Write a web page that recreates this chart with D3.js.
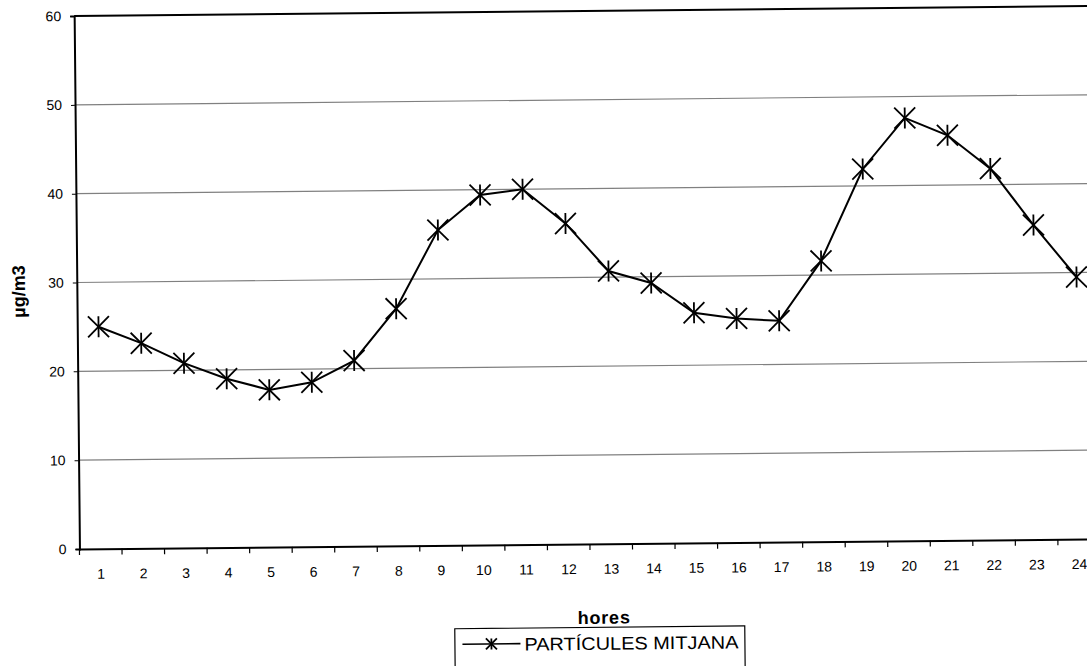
<!DOCTYPE html>
<html><head><meta charset="utf-8">
<script src="https://cdn.jsdelivr.net/npm/d3@7"></script>
<style>body{margin:0;background:#fff}svg{display:block}text{font-family:"Liberation Sans",Arial,sans-serif}</style>
</head><body>
<script>
const hours = ["1","2","3","4","5","6","7","8","9","10","11","12","13","14","15","16","17","18","19","20","21","22","23","24"];
const particulesMitjana = [25.0,23.1,20.8,19.0,17.7,18.5,20.9,26.7,35.5,39.4,40.0,36.1,30.7,29.3,25.9,25.2,24.9,31.6,41.9,47.6,45.6,41.8,35.4,29.5];
const yTicks = [0,10,20,30,40,50,60];
const seriesName = "PARTÍCULES MITJANA";
const xTitle = "hores";
const yTitle = "µg/m3";

const W = 1087, H = 666;
const svg0 = d3.select("body").append("svg").attr("width", W).attr("height", H);
// the source is a slightly tilted scan
const svg = svg0.append("g").attr("transform", "rotate(-0.57,580,300)");
const plotLeft = 77, plotRight = 1098, plotTop = 11, plotBottom = 544;

const x = d3.scaleBand().domain(hours).range([plotLeft, plotRight]).padding(0);
const y = d3.scaleLinear().domain([0, 60]).range([plotBottom, plotTop]);

// gridlines
svg.append("g").selectAll("line").data(yTicks.filter(d => d > 0 && d < 60)).join("line")
  .attr("x1", plotLeft).attr("x2", W + 10).attr("y1", d => y(d)).attr("y2", d => y(d))
  .attr("stroke", "#808080").attr("stroke-width", 1.2);
// top border
svg.append("line").attr("x1", plotLeft).attr("x2", W + 10).attr("y1", y(60)).attr("y2", y(60))
  .attr("stroke", "#000").attr("stroke-width", 2);

// y axis
const yAxis = d3.axisLeft(y).tickValues(yTicks).tickSize(4).tickPadding(9);
const gy = svg.append("g").attr("transform", `translate(${plotLeft},0)`).call(yAxis);
gy.select(".domain").attr("stroke", "#000").attr("stroke-width", 2);
gy.selectAll(".tick line").attr("stroke", "#000");
gy.selectAll("text").attr("font-size", 14).attr("fill", "#000");

// x axis
const xAxis = d3.axisBottom(x).tickSize(0).tickPadding(20);
const gx = svg.append("g").attr("transform", `translate(0,${plotBottom})`).call(xAxis);
gx.select(".domain").attr("stroke", "#000").attr("stroke-width", 2);
gx.selectAll("text").attr("font-size", 14).attr("fill", "#000");
// tick marks between categories
gx.append("g").selectAll("line").data(hours).join("line")
  .attr("x1", d => x(d)).attr("x2", d => x(d)).attr("y1", 0).attr("y2", 6)
  .attr("stroke", "#000").attr("stroke-width", 1.2);

// line
const line = d3.line().x((d, i) => x(hours[i]) + x.bandwidth() / 2).y(d => y(d));
svg.append("path").datum(particulesMitjana).attr("d", line)
  .attr("fill", "none").attr("stroke", "#000").attr("stroke-width", 2);

function star(g, r, w) {
  g.append("line").attr("x1", 0).attr("x2", 0).attr("y1", -r).attr("y2", r);
  g.append("line").attr("x1", -r).attr("x2", r).attr("y1", -r).attr("y2", r);
  g.append("line").attr("x1", -r).attr("x2", r).attr("y1", r).attr("y2", -r);
  g.selectAll("line").attr("stroke", "#000").attr("stroke-width", w);
}
particulesMitjana.forEach((v, i) => {
  const g = svg.append("g").attr("transform", `translate(${x(hours[i]) + x.bandwidth() / 2},${y(v)})`);
  star(g, 10.5, 1.8);
});

// axis titles
svg.append("text").attr("x", 601).attr("y", 624).attr("text-anchor", "middle")
  .attr("font-size", 18).attr("font-weight", "bold").attr("letter-spacing", 0.8).text(xTitle);
svg.append("text").attr("transform", "translate(25,286) rotate(-90)").attr("text-anchor", "middle")
  .attr("font-size", 18).attr("font-weight", "bold").text(yTitle);

// legend
const lg = svg.append("g");
lg.append("rect").attr("x", 451.5).attr("y", 627.5).attr("width", 290).attr("height", 50)
  .attr("fill", "#fff").attr("stroke", "#000").attr("stroke-width", 1.2);
lg.append("line").attr("x1", 459).attr("x2", 517).attr("y1", 643).attr("y2", 643)
  .attr("stroke", "#000").attr("stroke-width", 1.6);
const lm = lg.append("g").attr("transform", "translate(488,643)");
star(lm, 5.5, 1.8);
lg.append("text").attr("x", 521).attr("y", 650).attr("font-size", 18).attr("textLength", 214)
  .attr("lengthAdjust", "spacingAndGlyphs").text(seriesName);
</script>
</body></html>
